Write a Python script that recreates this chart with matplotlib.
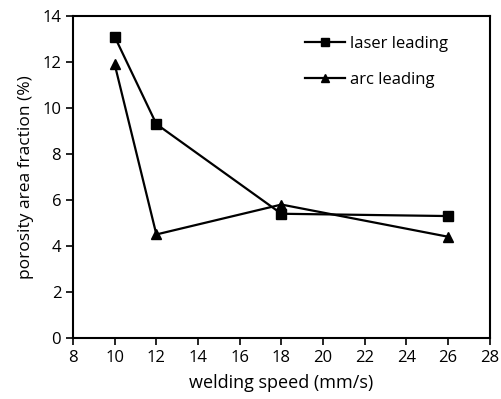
import matplotlib
matplotlib.use('Agg')
import matplotlib.pyplot as plt

plt.rcParams['font.family'] = ['Open Sans', 'DejaVu Sans']

# welding speed (mm/s)
speed = [10, 12, 18, 26]
laser_leading = [13.1, 9.3, 5.4, 5.3]
arc_leading = [11.9, 4.5, 5.8, 4.4]

fig = plt.figure(figsize=(5.01, 3.99), dpi=100)
ax = fig.add_axes([0.1457, 0.153, 0.832, 0.807])

ax.plot(speed, laser_leading, 'k-s', lw=1.6, ms=7, label='laser leading')
ax.plot(speed, arc_leading, 'k-^', lw=1.6, ms=7, label='arc leading')

ax.set_xlim(8, 28)
ax.set_ylim(0, 14)
ax.set_xticks(range(8, 29, 2))
ax.set_yticks(range(0, 15, 2))
ax.tick_params(direction='out', length=5, width=1.2, labelsize=12, colors='black')
for s in ax.spines.values():
    s.set_linewidth(1.5)
ax.set_xlabel('welding speed (mm/s)', fontsize=13, labelpad=6)
ax.set_ylabel('porosity area fraction (%)', fontsize=12.5, labelpad=6)

ax.legend(loc='upper left', bbox_to_anchor=(0.52, 0.985), frameon=False,
          fontsize=12, handlelength=2.4, handletextpad=0.3, labelspacing=1.2,
          markerscale=0.75)

fig.savefig('out.png', dpi=100)
